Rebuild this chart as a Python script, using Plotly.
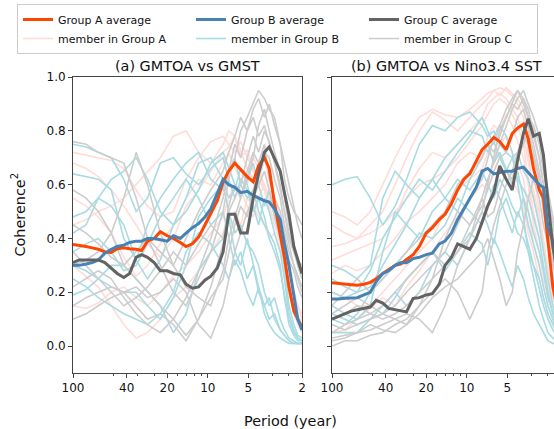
import math
import plotly.graph_objects as go

# ---------------- data ----------------
PERIOD_AVG = [100, 90, 80, 72, 65, 58, 52, 47, 42, 38, 34, 31, 28, 25, 22.5, 20, 18, 16, 14.5, 13,
              11.7, 10.5, 9.5, 8.5, 7.7, 7.0, 6.3, 5.7, 5.1, 4.6, 4.2, 3.8, 3.5, 3.2, 2.9, 2.7, 2.5, 2.3, 2.15, 2.0]
PERIOD_MEM = [100, 80, 65, 52, 42, 34, 28, 22.5, 18, 14.5, 11.7, 9.5, 7.7, 7.0, 6.3, 5.7, 5.1, 4.6, 4.2, 3.8,
              3.5, 3.2, 2.9, 2.7, 2.5, 2.3, 2.15, 2.0]

TICK_PERIODS = [100, 40, 20, 10, 5, 2]
TICK_LABELS = ["100", "40", "20", "10", "5", "2"]
MINOR_FREQS = [0.02, 0.03, 0.04, 0.06, 0.07, 0.08, 0.09, 0.3, 0.4]
Y_TICKS = [0.0, 0.2, 0.4, 0.6, 0.8, 1.0]

# panel (a) GMTOA vs GMST -- group averages
avg_a_A = [0.378, 0.375, 0.37, 0.365, 0.36, 0.35, 0.348, 0.362, 0.365, 0.362, 0.36, 0.355, 0.39, 0.40, 0.425, 0.41,
           0.40, 0.385, 0.37, 0.38, 0.405, 0.45, 0.49, 0.54, 0.61, 0.65, 0.68, 0.655, 0.63, 0.61, 0.67, 0.70, 0.66,
           0.53, 0.42, 0.33, 0.22, 0.13, 0.10, 0.07]
avg_a_B = [0.30, 0.30, 0.305, 0.31, 0.32, 0.345, 0.36, 0.37, 0.375, 0.385, 0.39, 0.39, 0.40, 0.40, 0.395, 0.39,
           0.41, 0.40, 0.42, 0.44, 0.455, 0.48, 0.51, 0.57, 0.62, 0.60, 0.59, 0.57, 0.575, 0.56, 0.55, 0.54, 0.535,
           0.51, 0.47, 0.38, 0.30, 0.18, 0.10, 0.06]
avg_a_C = [0.31, 0.32, 0.32, 0.32, 0.32, 0.31, 0.29, 0.27, 0.255, 0.27, 0.33, 0.34, 0.33, 0.31, 0.28, 0.28,
           0.27, 0.265, 0.23, 0.215, 0.22, 0.245, 0.26, 0.29, 0.35, 0.49, 0.49, 0.42, 0.42, 0.55, 0.64, 0.72, 0.74,
           0.70, 0.65, 0.57, 0.49, 0.37, 0.32, 0.27]

# panel (b) GMTOA vs Nino3.4 SST -- group averages
avg_b_A = [0.235, 0.232, 0.23, 0.228, 0.226, 0.23, 0.237, 0.25, 0.27, 0.285, 0.30, 0.305, 0.32, 0.34, 0.37, 0.42,
           0.44, 0.47, 0.49, 0.53, 0.58, 0.62, 0.64, 0.69, 0.73, 0.75, 0.775, 0.76, 0.73, 0.79, 0.81, 0.825, 0.77,
           0.66, 0.58, 0.55, 0.38, 0.22, 0.15, 0.10]
avg_b_B = [0.175, 0.175, 0.178, 0.18, 0.18, 0.19, 0.20, 0.24, 0.27, 0.28, 0.30, 0.31, 0.31, 0.325, 0.33, 0.34,
           0.345, 0.38, 0.39, 0.42, 0.47, 0.51, 0.55, 0.59, 0.65, 0.66, 0.64, 0.645, 0.65, 0.65, 0.66, 0.665, 0.645,
           0.62, 0.60, 0.59, 0.44, 0.39, 0.30, 0.20]
avg_b_C = [0.10, 0.11, 0.12, 0.13, 0.135, 0.14, 0.145, 0.17, 0.16, 0.14, 0.135, 0.13, 0.127, 0.177, 0.18, 0.19,
           0.195, 0.23, 0.30, 0.33, 0.38, 0.37, 0.36, 0.40, 0.46, 0.52, 0.57, 0.67, 0.62, 0.58, 0.69, 0.79, 0.845,
           0.78, 0.79, 0.71, 0.54, 0.37, 0.28, 0.20]

# panel (a) members
mem_a_A = [
    [0.72, 0.71, 0.70, 0.69, 0.66, 0.58, 0.52, 0.48, 0.50, 0.62, 0.70, 0.76, 0.78, 0.75, 0.72, 0.76, 0.70, 0.65, 0.62, 0.58, 0.52, 0.45, 0.40, 0.32, 0.25, 0.18, 0.12, 0.08],
    [0.68, 0.66, 0.63, 0.58, 0.52, 0.45, 0.38, 0.33, 0.40, 0.52, 0.58, 0.65, 0.72, 0.74, 0.78, 0.70, 0.73, 0.66, 0.60, 0.70, 0.62, 0.55, 0.48, 0.35, 0.28, 0.20, 0.15, 0.10],
    [0.55, 0.52, 0.48, 0.42, 0.33, 0.26, 0.30, 0.38, 0.45, 0.55, 0.62, 0.60, 0.68, 0.72, 0.66, 0.62, 0.60, 0.70, 0.66, 0.58, 0.50, 0.55, 0.42, 0.30, 0.22, 0.18, 0.15, 0.12],
    [0.30, 0.26, 0.22, 0.15, 0.08, 0.03, 0.05, 0.10, 0.18, 0.22, 0.28, 0.35, 0.42, 0.48, 0.50, 0.45, 0.55, 0.52, 0.48, 0.45, 0.40, 0.42, 0.35, 0.30, 0.20, 0.15, 0.10, 0.05],
    [0.15, 0.14, 0.16, 0.20, 0.22, 0.18, 0.15, 0.20, 0.26, 0.30, 0.35, 0.42, 0.48, 0.55, 0.60, 0.58, 0.52, 0.48, 0.55, 0.60, 0.52, 0.45, 0.38, 0.28, 0.20, 0.12, 0.08, 0.05],
    [0.45, 0.47, 0.50, 0.52, 0.55, 0.60, 0.65, 0.70, 0.78, 0.80, 0.72, 0.68, 0.75, 0.80, 0.78, 0.72, 0.66, 0.62, 0.66, 0.60, 0.55, 0.48, 0.40, 0.30, 0.22, 0.15, 0.10, 0.08],
]
mem_a_B = [
    [0.75, 0.74, 0.72, 0.70, 0.62, 0.50, 0.55, 0.68, 0.70, 0.64, 0.60, 0.66, 0.70, 0.62, 0.55, 0.62, 0.58, 0.50, 0.55, 0.48, 0.40, 0.35, 0.28, 0.20, 0.10, 0.05, 0.03, 0.02],
    [0.64, 0.63, 0.62, 0.58, 0.40, 0.32, 0.45, 0.55, 0.62, 0.68, 0.72, 0.62, 0.58, 0.65, 0.70, 0.60, 0.55, 0.58, 0.50, 0.45, 0.42, 0.38, 0.30, 0.18, 0.08, 0.04, 0.02, 0.02],
    [0.48, 0.50, 0.55, 0.52, 0.45, 0.32, 0.25, 0.32, 0.45, 0.55, 0.68, 0.70, 0.62, 0.55, 0.58, 0.66, 0.60, 0.52, 0.45, 0.55, 0.50, 0.42, 0.35, 0.25, 0.12, 0.06, 0.03, 0.02],
    [0.30, 0.28, 0.25, 0.22, 0.20, 0.20, 0.15, 0.10, 0.18, 0.30, 0.48, 0.55, 0.60, 0.50, 0.42, 0.45, 0.38, 0.35, 0.30, 0.20, 0.15, 0.18, 0.10, 0.06, 0.03, 0.02, 0.01, 0.01],
    [0.19, 0.21, 0.25, 0.30, 0.30, 0.25, 0.20, 0.15, 0.05, 0.12, 0.28, 0.35, 0.40, 0.48, 0.35, 0.30, 0.40, 0.30, 0.22, 0.15, 0.10, 0.12, 0.06, 0.04, 0.02, 0.01, 0.01, 0.01],
    [0.42, 0.45, 0.55, 0.62, 0.65, 0.70, 0.62, 0.50, 0.45, 0.50, 0.58, 0.68, 0.72, 0.66, 0.60, 0.55, 0.62, 0.68, 0.60, 0.52, 0.58, 0.48, 0.40, 0.30, 0.15, 0.08, 0.04, 0.03],
    [0.25, 0.22, 0.18, 0.15, 0.12, 0.10, 0.08, 0.12, 0.20, 0.35, 0.42, 0.38, 0.30, 0.25, 0.32, 0.28, 0.20, 0.15, 0.22, 0.12, 0.08, 0.05, 0.03, 0.02, 0.01, 0.01, 0.01, 0.01],
    [0.35, 0.38, 0.40, 0.35, 0.28, 0.30, 0.38, 0.48, 0.55, 0.62, 0.55, 0.45, 0.50, 0.40, 0.30, 0.35, 0.25, 0.30, 0.20, 0.15, 0.18, 0.10, 0.06, 0.04, 0.02, 0.01, 0.01, 0.01],
]
mem_a_C = [
    [0.76, 0.75, 0.72, 0.70, 0.68, 0.55, 0.40, 0.30, 0.20, 0.15, 0.25, 0.35, 0.50, 0.62, 0.70, 0.80, 0.85, 0.90, 0.95, 0.92, 0.88, 0.85, 0.75, 0.62, 0.55, 0.50, 0.48, 0.45],
    [0.58, 0.55, 0.50, 0.42, 0.30, 0.25, 0.20, 0.15, 0.10, 0.04, 0.10, 0.22, 0.38, 0.50, 0.55, 0.60, 0.70, 0.78, 0.72, 0.80, 0.76, 0.68, 0.60, 0.50, 0.40, 0.35, 0.32, 0.30],
    [0.30, 0.32, 0.35, 0.42, 0.55, 0.72, 0.60, 0.42, 0.30, 0.22, 0.18, 0.15, 0.28, 0.40, 0.48, 0.55, 0.62, 0.70, 0.82, 0.88, 0.80, 0.72, 0.65, 0.55, 0.45, 0.38, 0.30, 0.25],
    [0.15, 0.18, 0.20, 0.22, 0.20, 0.15, 0.10, 0.12, 0.08, 0.02, 0.10, 0.18, 0.25, 0.35, 0.45, 0.52, 0.48, 0.58, 0.65, 0.72, 0.70, 0.62, 0.55, 0.45, 0.38, 0.30, 0.25, 0.20],
    [0.10, 0.12, 0.15, 0.18, 0.20, 0.22, 0.18, 0.20, 0.25, 0.20, 0.08, 0.03, 0.15, 0.25, 0.35, 0.42, 0.50, 0.55, 0.60, 0.65, 0.58, 0.50, 0.45, 0.40, 0.32, 0.28, 0.22, 0.18],
    [0.45, 0.42, 0.38, 0.33, 0.30, 0.35, 0.40, 0.35, 0.30, 0.40, 0.50, 0.58, 0.65, 0.72, 0.78, 0.85, 0.80, 0.88, 0.92, 0.85, 0.90, 0.82, 0.75, 0.68, 0.60, 0.52, 0.45, 0.40],
    [0.22, 0.25, 0.28, 0.25, 0.18, 0.12, 0.08, 0.05, 0.10, 0.18, 0.28, 0.40, 0.55, 0.65, 0.75, 0.70, 0.80, 0.85, 0.78, 0.82, 0.75, 0.68, 0.58, 0.50, 0.42, 0.35, 0.30, 0.25],
    [0.35, 0.30, 0.25, 0.20, 0.15, 0.18, 0.22, 0.28, 0.35, 0.30, 0.38, 0.45, 0.40, 0.52, 0.60, 0.55, 0.65, 0.72, 0.68, 0.75, 0.62, 0.55, 0.50, 0.42, 0.35, 0.30, 0.26, 0.22],
]

# panel (b) members
mem_b_A = [
    [0.50, 0.48, 0.45, 0.50, 0.60, 0.70, 0.78, 0.85, 0.88, 0.86, 0.85, 0.88, 0.92, 0.94, 0.95, 0.96, 0.95, 0.93, 0.90, 0.85, 0.72, 0.55, 0.45, 0.35, 0.25, 0.18, 0.12, 0.10],
    [0.37, 0.38, 0.40, 0.42, 0.45, 0.50, 0.55, 0.60, 0.62, 0.65, 0.70, 0.76, 0.82, 0.86, 0.90, 0.92, 0.90, 0.86, 0.82, 0.75, 0.62, 0.50, 0.40, 0.30, 0.22, 0.15, 0.10, 0.08],
    [0.27, 0.30, 0.28, 0.30, 0.35, 0.40, 0.46, 0.50, 0.55, 0.60, 0.68, 0.72, 0.70, 0.78, 0.82, 0.80, 0.86, 0.82, 0.76, 0.70, 0.60, 0.45, 0.35, 0.25, 0.18, 0.12, 0.08, 0.06],
    [0.20, 0.18, 0.15, 0.15, 0.20, 0.25, 0.30, 0.35, 0.40, 0.50, 0.58, 0.62, 0.66, 0.72, 0.70, 0.75, 0.78, 0.72, 0.68, 0.62, 0.50, 0.38, 0.30, 0.22, 0.15, 0.10, 0.08, 0.05],
    [0.05, 0.06, 0.10, 0.14, 0.18, 0.15, 0.22, 0.28, 0.35, 0.42, 0.48, 0.55, 0.60, 0.58, 0.65, 0.70, 0.66, 0.62, 0.58, 0.52, 0.42, 0.35, 0.25, 0.18, 0.12, 0.08, 0.05, 0.04],
    [0.32, 0.34, 0.36, 0.38, 0.40, 0.48, 0.58, 0.66, 0.72, 0.70, 0.75, 0.80, 0.85, 0.90, 0.92, 0.94, 0.92, 0.88, 0.85, 0.78, 0.68, 0.58, 0.48, 0.38, 0.28, 0.20, 0.14, 0.10],
    [0.45, 0.42, 0.40, 0.45, 0.50, 0.60, 0.70, 0.80, 0.87, 0.84, 0.80, 0.85, 0.90, 0.92, 0.95, 0.93, 0.96, 0.94, 0.92, 0.88, 0.80, 0.65, 0.50, 0.38, 0.28, 0.20, 0.15, 0.12],
]
mem_b_B = [
    [0.60, 0.62, 0.63, 0.55, 0.45, 0.52, 0.62, 0.75, 0.82, 0.80, 0.85, 0.87, 0.82, 0.78, 0.80, 0.75, 0.72, 0.70, 0.72, 0.65, 0.62, 0.55, 0.45, 0.35, 0.25, 0.15, 0.10, 0.08],
    [0.30, 0.28, 0.25, 0.30, 0.55, 0.65, 0.60, 0.55, 0.62, 0.70, 0.75, 0.80, 0.78, 0.72, 0.76, 0.70, 0.65, 0.70, 0.62, 0.58, 0.55, 0.48, 0.40, 0.30, 0.20, 0.12, 0.08, 0.05],
    [0.15, 0.12, 0.10, 0.15, 0.35, 0.50, 0.45, 0.40, 0.50, 0.55, 0.62, 0.58, 0.65, 0.60, 0.55, 0.62, 0.58, 0.52, 0.48, 0.55, 0.45, 0.38, 0.30, 0.22, 0.15, 0.10, 0.06, 0.04],
    [0.05, 0.05, 0.05, 0.10, 0.15, 0.20, 0.15, 0.20, 0.30, 0.35, 0.30, 0.40, 0.50, 0.45, 0.38, 0.50, 0.55, 0.48, 0.42, 0.40, 0.35, 0.30, 0.25, 0.18, 0.12, 0.08, 0.05, 0.03],
    [0.20, 0.18, 0.20, 0.22, 0.30, 0.38, 0.45, 0.55, 0.62, 0.55, 0.50, 0.62, 0.70, 0.75, 0.68, 0.72, 0.66, 0.60, 0.65, 0.55, 0.50, 0.42, 0.35, 0.28, 0.18, 0.12, 0.08, 0.05],
    [0.10, 0.08, 0.12, 0.20, 0.25, 0.30, 0.35, 0.42, 0.40, 0.45, 0.55, 0.50, 0.45, 0.52, 0.60, 0.55, 0.48, 0.42, 0.50, 0.45, 0.38, 0.30, 0.22, 0.15, 0.10, 0.06, 0.04, 0.03],
    [0.12, 0.10, 0.08, 0.10, 0.12, 0.18, 0.25, 0.30, 0.35, 0.28, 0.35, 0.42, 0.38, 0.30, 0.40, 0.35, 0.28, 0.22, 0.30, 0.25, 0.18, 0.12, 0.08, 0.05, 0.02, 0.01, 0.01, 0.01],
    [0.25, 0.22, 0.20, 0.28, 0.40, 0.48, 0.55, 0.62, 0.58, 0.65, 0.72, 0.78, 0.85, 0.80, 0.75, 0.82, 0.78, 0.72, 0.60, 0.48, 0.35, 0.25, 0.15, 0.10, 0.05, 0.03, 0.02, 0.02],
]
mem_b_C = [
    [0.02, 0.03, 0.05, 0.06, 0.08, 0.10, 0.12, 0.10, 0.05, 0.15, 0.30, 0.40, 0.50, 0.60, 0.70, 0.80, 0.85, 0.90, 0.95, 0.92, 0.88, 0.80, 0.70, 0.60, 0.50, 0.42, 0.35, 0.30],
    [0.05, 0.08, 0.10, 0.12, 0.15, 0.20, 0.25, 0.30, 0.35, 0.30, 0.35, 0.45, 0.55, 0.62, 0.68, 0.75, 0.82, 0.88, 0.92, 0.95, 0.90, 0.85, 0.78, 0.68, 0.58, 0.48, 0.40, 0.35],
    [0.10, 0.12, 0.15, 0.12, 0.10, 0.12, 0.15, 0.20, 0.25, 0.40, 0.50, 0.45, 0.52, 0.58, 0.65, 0.70, 0.72, 0.78, 0.85, 0.88, 0.82, 0.75, 0.65, 0.55, 0.45, 0.38, 0.32, 0.28],
    [0.00, 0.02, 0.02, 0.04, 0.05, 0.08, 0.10, 0.15, 0.20, 0.25, 0.20, 0.10, 0.20, 0.35, 0.45, 0.52, 0.60, 0.65, 0.72, 0.78, 0.75, 0.70, 0.62, 0.52, 0.42, 0.35, 0.28, 0.22],
    [0.15, 0.20, 0.25, 0.20, 0.25, 0.30, 0.35, 0.40, 0.45, 0.50, 0.60, 0.65, 0.70, 0.75, 0.72, 0.78, 0.85, 0.90, 0.88, 0.92, 0.85, 0.78, 0.70, 0.60, 0.50, 0.42, 0.35, 0.30],
    [0.08, 0.06, 0.08, 0.10, 0.12, 0.10, 0.08, 0.15, 0.25, 0.30, 0.35, 0.40, 0.55, 0.48, 0.50, 0.58, 0.65, 0.62, 0.70, 0.75, 0.80, 0.72, 0.62, 0.50, 0.40, 0.32, 0.25, 0.20],
    [0.03, 0.04, 0.05, 0.08, 0.06, 0.05, 0.08, 0.12, 0.18, 0.22, 0.25, 0.30, 0.35, 0.40, 0.32, 0.25, 0.15, 0.20, 0.35, 0.45, 0.55, 0.62, 0.55, 0.45, 0.38, 0.30, 0.25, 0.20],
    [0.12, 0.15, 0.18, 0.15, 0.12, 0.15, 0.20, 0.25, 0.30, 0.35, 0.45, 0.55, 0.62, 0.70, 0.78, 0.82, 0.88, 0.92, 0.95, 0.90, 0.85, 0.82, 0.75, 0.65, 0.55, 0.45, 0.38, 0.32],
]

GROUPS = ["A", "B", "C"]
MEM_COLOR = {"A": "#ffdcd8", "B": "#a9dbe2", "C": "#cdcdcd"}
AVG_COLOR = {"A": "#ff4500", "B": "#4682b4", "C": "#636363"}

# ---------------- figure ----------------
W, H = 554, 429
fig = go.Figure()

f_avg = [1.0 / p for p in PERIOD_AVG]
f_mem = [1.0 / p for p in PERIOD_MEM]

panels = [
    ("x", "y", {"A": mem_a_A, "B": mem_a_B, "C": mem_a_C}, {"A": avg_a_A, "B": avg_a_B, "C": avg_a_C}),
    ("x2", "y2", {"A": mem_b_A, "B": mem_b_B, "C": mem_b_C}, {"A": avg_b_A, "B": avg_b_B, "C": avg_b_C}),
]
for pi, (xa, ya, mems, avgs) in enumerate(panels):
    for gi, g in enumerate(GROUPS):
        for mi, vals in enumerate(mems[g]):
            fig.add_trace(go.Scatter(
                x=f_mem, y=vals, xaxis=xa, yaxis=ya, mode="lines",
                line=dict(color=MEM_COLOR[g], width=1.6),
                name=f"member in Group {g}",
                showlegend=(pi == 0 and mi == 0), legendrank=4 + gi,
                hoverinfo="skip"))
    for gi, g in enumerate(GROUPS):
        fig.add_trace(go.Scatter(
            x=f_avg, y=avgs[g], xaxis=xa, yaxis=ya, mode="lines",
            line=dict(color=AVG_COLOR[g], width=3),
            name=f"Group {g} average",
            showlegend=(pi == 0), legendrank=1 + gi))

SPINE = "#444444"
tickvals = [1.0 / p for p in TICK_PERIODS]
xcommon = dict(type="log", tickmode="array", tickvals=tickvals, ticktext=TICK_LABELS,
               ticks="outside", ticklen=4, tickwidth=1, tickcolor=SPINE,
               showline=True, linecolor=SPINE, linewidth=1, mirror=True,
               showgrid=False, zeroline=False, automargin=False,
               minor=dict(tickmode="array", tickvals=MINOR_FREQS, ticks="outside",
                          ticklen=2, tickcolor=SPINE, showgrid=False),
               tickfont=dict(size=12, color="#111111"))
ycommon = dict(range=[-0.1, 1.0], tickmode="array", tickvals=Y_TICKS,
               ticktext=[f"{v:.1f}" for v in Y_TICKS],
               ticks="outside", ticklen=4, tickwidth=1, tickcolor=SPINE,
               showline=True, linecolor=SPINE, linewidth=1, automargin=False,
               showgrid=False, zeroline=False, tickfont=dict(size=12, color="#111111"))

px_per_decade = 229 / math.log10(50)
ydom = [1 - 373 / H, 1 - 77 / H]

fig.update_layout(
    width=W, height=H,
    margin=dict(l=0, r=0, t=0, b=0, autoexpand=False),
    paper_bgcolor="white", plot_bgcolor="white",
    font=dict(family="DejaVu Sans", size=12, color="#111111"),
    xaxis=dict(xcommon, domain=[73 / W, 302 / W], anchor="y",
               range=[-2, math.log10(0.5)]),
    yaxis=dict(ycommon, domain=ydom, anchor="x", mirror=True),
    xaxis2=dict(xcommon, domain=[332 / W, 1.0], anchor="y2",
                range=[-2, -2 + 222 / px_per_decade]),
    yaxis2=dict(ycommon, domain=ydom, anchor="x2", mirror=False, showticklabels=False),
    legend=dict(orientation="h", x=17 / W, y=1 - 4 / H, xanchor="left", yanchor="top",
                bordercolor="#cccccc", borderwidth=1, bgcolor="white",
                font=dict(size=11, color="#111111"),
                entrywidth=128, entrywidthmode="pixels", traceorder="normal"),
    showlegend=True,
)

anns = [
    dict(text="(a) GMTOA vs GMST", x=187.5 / W, y=1 - 66 / H),
    dict(text="(b) GMTOA vs Nino3.4 SST", x=446 / W, y=1 - 66 / H),
    dict(text="Period (year)", x=290 / W, y=1 - 421 / H),
]
for a in anns:
    fig.add_annotation(xref="paper", yref="paper", showarrow=False,
                       xanchor="center", yanchor="middle",
                       font=dict(size=14.4, color="#111111"), **a)
fig.add_annotation(xref="paper", yref="paper", showarrow=False, text="Coherence<sup>2</sup>",
                   x=18.5 / W, y=1 - 215 / H, xanchor="center", yanchor="middle",
                   textangle=-90, font=dict(size=14.4, color="#111111"))

fig.write_html("out.html")
